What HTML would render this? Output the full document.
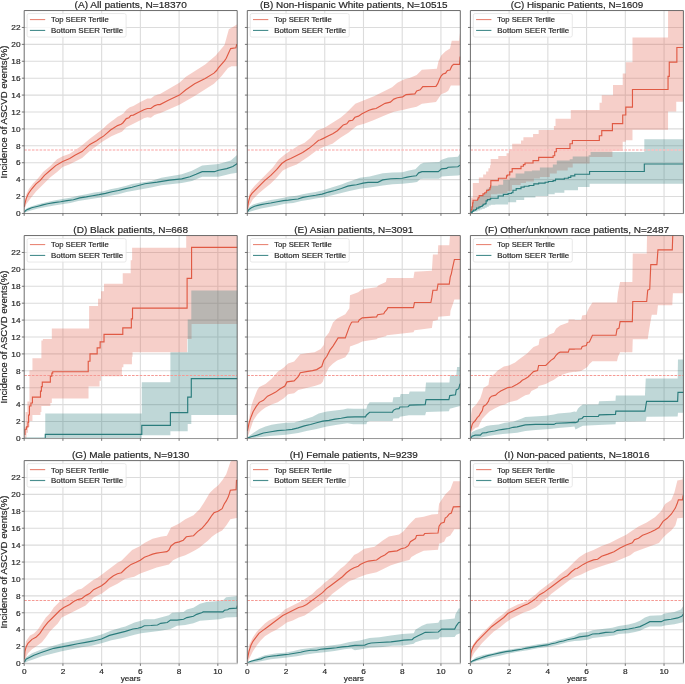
<!DOCTYPE html><html><head><meta charset="utf-8"><style>html,body{margin:0;padding:0;background:#fff;}svg{display:block;}</style></head><body>
<svg width="685" height="684" viewBox="0 0 685 684">
<rect width="685" height="684" fill="#fff"/>
<defs><clipPath id="c0"><rect x="24.2" y="10.55" width="213" height="202.9"/></clipPath><clipPath id="c1"><rect x="247.3" y="10.55" width="213" height="202.9"/></clipPath><clipPath id="c2"><rect x="470.4" y="10.55" width="213" height="202.9"/></clipPath><clipPath id="c3"><rect x="24.2" y="235.55" width="213" height="202.9"/></clipPath><clipPath id="c4"><rect x="247.3" y="235.55" width="213" height="202.9"/></clipPath><clipPath id="c5"><rect x="470.4" y="235.55" width="213" height="202.9"/></clipPath><clipPath id="c6"><rect x="24.2" y="460.6" width="213" height="202.9"/></clipPath><clipPath id="c7"><rect x="247.3" y="460.6" width="213" height="202.9"/></clipPath><clipPath id="c8"><rect x="470.4" y="460.6" width="213" height="202.9"/></clipPath></defs>
<g font-family='&quot;Liberation Sans&quot;, sans-serif' style="will-change:transform"><path d="M62.93 10.55 V213.45 M101.65 10.55 V213.45 M140.38 10.55 V213.45 M179.11 10.55 V213.45 M217.84 10.55 V213.45 M24.2 213.45 H237.2 M24.2 196.54 H237.2 M24.2 179.63 H237.2 M24.2 162.73 H237.2 M24.2 145.82 H237.2 M24.2 128.91 H237.2 M24.2 112 H237.2 M24.2 95.09 H237.2 M24.2 78.18 H237.2 M24.2 61.28 H237.2 M24.2 44.37 H237.2 M24.2 27.46 H237.2" stroke="#dcdcdc" stroke-width="1.1" fill="none"/><g clip-path="url(#c0)"><path d="M24.24 204.21 L24.8 201.4 L26.21 194.39 L29.02 188.77 L33.22 183.16 L37.44 178.95 L43.06 171.93 L50.07 166.32 L57.08 159.3 L62.69 156.21 L69.72 153.69 L78.15 148.07 L82.08 145.27 L89.84 138.66 L100.01 130.88 L103.51 128.25 L107.02 124.74 L110.52 122.1 L114.03 119.47 L117.55 116.84 L121.06 115.09 L123.69 113.34 L126.32 109.83 L129.83 107.19 L133.33 105.88 L136.84 104.12 L140.34 101.93 L143.87 100.17 L147.37 98.6 L150.88 98.42 L154.38 95.79 L157.89 94.47 L160 94.03 L179.4 82.81 L185.89 76.67 L205.19 64.39 L215.73 55.61 L224.5 45.09 L228.87 29.3 L233.27 26.66 L237.65 24.03 L237.65 66.14 L231.51 66.14 L228 67.89 L220.97 76.67 L213.96 83.69 L194.66 95.96 L179.4 104.74 L160 113.34 L157.89 113.78 L154.38 115.09 L150.88 117.72 L147.37 117.28 L143.87 118.15 L140.34 120.35 L136.84 122.1 L133.33 123.86 L129.83 125.61 L126.32 127.37 L121.93 131.76 L117.55 133.51 L111.39 136.14 L102.62 141.4 L89.84 150.88 L82.08 157.9 L78.15 160 L69.72 164.21 L62.69 167.02 L57.08 171.93 L50.07 177.55 L43.06 184.56 L36.03 191.58 L30.42 198.6 L26.21 204.21 L24.8 208.42 L24.24 209.82 Z" fill="#e15f4b" fill-opacity="0.3" stroke="none"/><path d="M24.41 210.7 L26.81 208.13 L31.64 206.2 L38.06 204.28 L46.08 202.19 L54.12 200.58 L62.15 198.98 L70.17 197.85 L78.21 195.76 L86.24 194.16 L94.26 192.55 L102.29 191.43 L110.33 189.35 L118.35 187.74 L126.38 185.65 L132 184.05 L151.09 180.88 L161.31 177.81 L181.74 174.33 L191.97 170.66 L202.19 165.55 L218.53 164.12 L230.81 160.43 L237.34 154.72 L237.34 172.7 L230.81 173.72 L218.53 176.78 L202.19 176.78 L191.97 180.88 L181.74 182.92 L161.31 185.37 L151.09 187.42 L132 190.95 L126.38 192.07 L118.35 194.16 L110.33 195.76 L102.29 197.37 L94.26 198.49 L86.24 199.78 L78.21 201.06 L70.17 202.99 L62.15 204.28 L54.12 205.4 L46.08 207.01 L38.06 208.61 L31.64 210.22 L26.81 211.83 L24.41 212.95 Z" fill="#2a7c7c" fill-opacity="0.3" stroke="none"/><path d="M24.2 150.04 H237.2" stroke="#fcc0c0" stroke-width="1.5" stroke-dasharray="2.6 1.25" fill="none"/><path d="M24.24 207.02 L24.8 204.21 L26.21 198.6 L28.32 193.68 L31.83 188.77 L36.03 183.86 L40.25 180.35 L44.45 175.44 L50.07 170.53 L55.69 165.62 L62.69 161.41 L69.72 158.6 L75.34 155.09 L82.08 151.58 L89.84 144.43 L96.62 140.7 L100.01 138.33 L103.51 136.14 L107.02 133.07 L110.52 130 L114.03 127.81 L117.55 125.61 L121.06 124.3 L122.8 122.98 L126.32 118.59 L128.94 117.72 L130.7 115.53 L133.33 115.09 L136.84 113.34 L140.34 111.58 L143.87 109.83 L147.37 108.51 L150.88 108.51 L154.38 105.88 L157.89 104.56 L160 104.56 L168.34 100.35 L179.4 95.09 L185.89 89.82 L194.66 83.69 L205.19 78.42 L213.96 73.16 L216.6 70.52 L218.36 67.89 L224.5 60.88 L226.24 58.25 L230.64 48.59 L235.9 47.72 L236.77 44.21" stroke="#e05a44" stroke-width="1.15" fill="none" stroke-linejoin="miter"/><path d="M24.41 211.83 L26.02 210.22 L28.42 209.1 L31.64 207.81 L34.85 207.01 L38.06 206.2 L42.87 204.92 L47.69 203.8 L54.12 202.67 L60.55 201.71 L66.95 200.58 L73.38 199.78 L79.81 197.85 L86.24 196.89 L92.65 195.76 L99.08 194.64 L105.51 193.35 L111.94 191.75 L118.35 190.46 L124.77 188.87 L132 187.26 L144.97 183.73 L157.23 182.1 L169.49 180.06 L181.74 178.83 L189.93 176.78 L196.05 174.33 L202.19 171.68 L214.45 171.68 L218.53 170.25 L226.72 168.61 L232.84 166.57 L237.34 163.5" stroke="#2a7c7c" stroke-width="1.15" fill="none" stroke-linejoin="miter"/></g><path d="M24.2 213.45 V10.55 H237.2 V213.45" fill="none" stroke="#5a5a5a" stroke-width="0.9"/><path d="M23.75 213.55 H237.65" fill="none" stroke="#7a7a7a" stroke-width="0.9"/><path d="M21.8 213.45 H24.2 M21.8 196.54 H24.2 M21.8 179.63 H24.2 M21.8 162.73 H24.2 M21.8 145.82 H24.2 M21.8 128.91 H24.2 M21.8 112 H24.2 M21.8 95.09 H24.2 M21.8 78.18 H24.2 M21.8 61.28 H24.2 M21.8 44.37 H24.2 M21.8 27.46 H24.2 M24.2 213.45 V215.85 M62.93 213.45 V215.85 M101.65 213.45 V215.85 M140.38 213.45 V215.85 M179.11 213.45 V215.85 M217.84 213.45 V215.85" stroke="#555" stroke-width="0.8" fill="none"/><text x="20.6" y="216.2" font-size="7.9" text-anchor="end" textLength="4.61" lengthAdjust="spacingAndGlyphs" fill="#262626" stroke="#262626" stroke-width="0.18">0</text><text x="20.6" y="199.29" font-size="7.9" text-anchor="end" textLength="4.61" lengthAdjust="spacingAndGlyphs" fill="#262626" stroke="#262626" stroke-width="0.18">2</text><text x="20.6" y="182.38" font-size="7.9" text-anchor="end" textLength="4.61" lengthAdjust="spacingAndGlyphs" fill="#262626" stroke="#262626" stroke-width="0.18">4</text><text x="20.6" y="165.48" font-size="7.9" text-anchor="end" textLength="4.61" lengthAdjust="spacingAndGlyphs" fill="#262626" stroke="#262626" stroke-width="0.18">6</text><text x="20.6" y="148.57" font-size="7.9" text-anchor="end" textLength="4.61" lengthAdjust="spacingAndGlyphs" fill="#262626" stroke="#262626" stroke-width="0.18">8</text><text x="20.6" y="131.66" font-size="7.9" text-anchor="end" textLength="9.23" lengthAdjust="spacingAndGlyphs" fill="#262626" stroke="#262626" stroke-width="0.18">10</text><text x="20.6" y="114.75" font-size="7.9" text-anchor="end" textLength="9.23" lengthAdjust="spacingAndGlyphs" fill="#262626" stroke="#262626" stroke-width="0.18">12</text><text x="20.6" y="97.84" font-size="7.9" text-anchor="end" textLength="9.23" lengthAdjust="spacingAndGlyphs" fill="#262626" stroke="#262626" stroke-width="0.18">14</text><text x="20.6" y="80.93" font-size="7.9" text-anchor="end" textLength="9.23" lengthAdjust="spacingAndGlyphs" fill="#262626" stroke="#262626" stroke-width="0.18">16</text><text x="20.6" y="64.03" font-size="7.9" text-anchor="end" textLength="9.23" lengthAdjust="spacingAndGlyphs" fill="#262626" stroke="#262626" stroke-width="0.18">18</text><text x="20.6" y="47.12" font-size="7.9" text-anchor="end" textLength="9.23" lengthAdjust="spacingAndGlyphs" fill="#262626" stroke="#262626" stroke-width="0.18">20</text><text x="20.6" y="30.21" font-size="7.9" text-anchor="end" textLength="9.23" lengthAdjust="spacingAndGlyphs" fill="#262626" stroke="#262626" stroke-width="0.18">22</text><text transform="translate(7.2 112) rotate(-90)" x="0" y="0" font-size="8.5" text-anchor="middle" textLength="133.05" lengthAdjust="spacingAndGlyphs" fill="#262626" stroke="#262626" stroke-width="0.18">Incidence of ASCVD events(%)</text><text x="130.7" y="7.95" font-size="9.2" text-anchor="middle" textLength="112.2" lengthAdjust="spacingAndGlyphs" fill="#262626" stroke="#262626" stroke-width="0.18">(A) All patients, N=18370</text><rect x="27.1" y="13.55" width="99" height="23.5" rx="1.8" fill="#fff" fill-opacity="0.8" stroke="#e2e2e2" stroke-width="0.8"/><path d="M29.9 19.55 H45.2" stroke="#e05a44" stroke-width="1.15" opacity="0.72"/><path d="M29.9 30.45 H45.2" stroke="#2a7c7c" stroke-width="1.15" opacity="0.85"/><text x="51.1" y="22.45" font-size="7.5" textLength="57.61" lengthAdjust="spacingAndGlyphs" fill="#262626" stroke="#262626" stroke-width="0.18">Top SEER Tertile</text><text x="51.1" y="32.75" font-size="7.5" textLength="71.97" lengthAdjust="spacingAndGlyphs" fill="#262626" stroke="#262626" stroke-width="0.18">Bottom SEER Tertile</text></g>
<g font-family='&quot;Liberation Sans&quot;, sans-serif' style="will-change:transform"><path d="M286.03 10.55 V213.45 M324.75 10.55 V213.45 M363.48 10.55 V213.45 M402.21 10.55 V213.45 M440.94 10.55 V213.45 M247.3 213.45 H460.3 M247.3 196.54 H460.3 M247.3 179.63 H460.3 M247.3 162.73 H460.3 M247.3 145.82 H460.3 M247.3 128.91 H460.3 M247.3 112 H460.3 M247.3 95.09 H460.3 M247.3 78.18 H460.3 M247.3 61.28 H460.3 M247.3 44.37 H460.3 M247.3 27.46 H460.3" stroke="#dcdcdc" stroke-width="1.1" fill="none"/><g clip-path="url(#c1)"><path d="M247.38 205.27 L248.98 195.32 L250.96 190.35 L254.95 185.38 L260.91 179.41 L266.88 173.45 L272.84 167.48 L278.8 159.53 L284.77 154.56 L290.73 150.58 L298.69 145.61 L304.66 142.63 L310.62 137.66 L316.58 130.7 L324.54 127.72 L332.48 122.75 L340.44 117.77 L346.4 112.8 L355.27 103.86 L364.04 100.35 L374.56 95.96 L385.09 90.7 L392.1 87.2 L397.37 82.81 L404.38 79.3 L409.64 78.07 L416.67 74.91 L421.92 69.65 L436.85 68.77 L438.59 60.88 L441.23 55.61 L445.62 51.23 L450 48.59 L451.76 40.7 L459.12 40.7 L460.18 31.05 L460.18 85.44 L450.87 85.44 L448.24 90.7 L445.62 92.45 L441.23 94.21 L437.72 99.47 L435.96 102.11 L421.92 103.86 L416.67 106.84 L409.64 108.25 L402.64 110 L393.86 111.75 L385.09 115.26 L372.82 120.53 L364.04 123.68 L357.01 125.79 L348.4 132.69 L340.44 137.66 L332.48 143.63 L324.54 146.61 L316.58 150.58 L308.62 156.55 L302.66 160.53 L296.7 164.5 L288.74 167.48 L282.77 170.47 L276.81 177.43 L270.85 183.4 L264.88 188.37 L258.92 193.34 L252.95 199.3 L248.98 206.26 L247.38 211.23 Z" fill="#e15f4b" fill-opacity="0.3" stroke="none"/><path d="M247.42 211.02 L249.02 207.01 L253.03 204.6 L257.85 202.99 L264.26 201.39 L270.69 200.1 L277.12 198.98 L283.55 197.85 L289.96 196.57 L296.39 195.76 L302.82 194.16 L309.22 193.03 L315.65 192.07 L322.08 190.46 L328.51 188.54 L334.92 186.62 L341.35 184.53 L347.78 182.12 L351.79 180.83 L359.8 177.74 L369.62 176.6 L382.71 173.33 L392.51 172.51 L402.33 172.19 L408.87 170.55 L415.4 169.24 L420.31 164.34 L423.57 162.7 L439.12 161.88 L441.56 159.76 L448.1 157.47 L457.92 156.65 L460.03 153.7 L460.03 174.97 L457.92 175.46 L448.1 176.11 L441.56 176.6 L439.12 178.72 L423.57 178.72 L420.31 179.05 L417.04 181.99 L412.12 182.65 L402.33 183.63 L392.51 184.28 L382.71 185.59 L369.62 187.55 L359.8 188.87 L351.79 190.46 L349.39 190.95 L341.35 193.03 L333.31 194.96 L325.3 196.89 L317.26 198.17 L309.22 199.78 L301.21 201.06 L293.17 202.99 L285.14 203.8 L277.12 205.4 L269.08 207.01 L261.07 208.61 L254.64 210.22 L249.82 211.83 L247.42 212.95 Z" fill="#2a7c7c" fill-opacity="0.3" stroke="none"/><path d="M247.3 150.04 H460.3" stroke="#fcc0c0" stroke-width="1.5" stroke-dasharray="2.6 1.25" fill="none"/><path d="M247.38 209.24 L248.58 201.28 L249.97 196.31 L251.97 193.34 L254.95 190.35 L258.92 186.37 L264.88 180.41 L270.85 175.44 L276.81 169.47 L281.79 163.51 L285.95 160.53 L290.73 158.54 L296.7 155.56 L302.66 152.57 L308.62 148.6 L313.6 144.62 L318.56 140.25 L319.87 140 L323.4 138.36 L328.07 136.03 L332.75 133.68 L337.42 130.76 L340.94 127.25 L343.27 124.91 L346.79 123.74 L349.11 120.82 L352.64 120.23 L354.96 117.31 L358.49 116.14 L361.99 113.8 L365.5 112.05 L369 110.29 L372.51 109.13 L376.03 108.53 L380 106.2 L385.09 103.33 L390.36 102.11 L393.86 99.12 L397.37 97.72 L402.64 96.84 L406.14 94.56 L414.91 93.86 L416.67 91.05 L420.18 89.82 L422.81 86.66 L435.96 86.32 L437.72 83.69 L439.46 79.3 L441.23 75.79 L442.99 74.03 L445.62 73.16 L447.37 70.52 L450 70 L451.76 66.14 L453.5 64.39 L459.64 64.39 L460.18 56.49" stroke="#e05a44" stroke-width="1.15" fill="none" stroke-linejoin="miter"/><path d="M247.42 211.83 L249.02 209.42 L251.42 207.81 L254.64 206.2 L257.85 205.4 L261.07 204.6 L265.87 203.8 L270.69 202.99 L277.12 201.71 L283.55 200.58 L288.35 200.1 L293.17 199.46 L297.99 198.98 L302.82 197.37 L309.22 196.25 L315.65 195.28 L322.08 194.16 L328.51 192.07 L334.92 190.46 L341.35 188.54 L347.78 186.13 L351.79 185.33 L356.55 184.77 L363.08 183.14 L367.99 182.32 L377.79 182.32 L382.71 179.87 L390.88 178.72 L402.33 178.23 L407.22 177.09 L412.12 176.27 L416.23 175.78 L418.67 172.84 L421.94 171.69 L438.28 171.69 L441.56 168.91 L446.47 168.42 L448.1 167.28 L457.92 166.79 L460.03 165.15" stroke="#2a7c7c" stroke-width="1.15" fill="none" stroke-linejoin="miter"/></g><path d="M247.3 213.45 V10.55 H460.3 V213.45" fill="none" stroke="#5a5a5a" stroke-width="0.9"/><path d="M246.85 213.55 H460.75" fill="none" stroke="#7a7a7a" stroke-width="0.9"/><path d="M244.9 213.45 H247.3 M244.9 196.54 H247.3 M244.9 179.63 H247.3 M244.9 162.73 H247.3 M244.9 145.82 H247.3 M244.9 128.91 H247.3 M244.9 112 H247.3 M244.9 95.09 H247.3 M244.9 78.18 H247.3 M244.9 61.28 H247.3 M244.9 44.37 H247.3 M244.9 27.46 H247.3 M247.3 213.45 V215.85 M286.03 213.45 V215.85 M324.75 213.45 V215.85 M363.48 213.45 V215.85 M402.21 213.45 V215.85 M440.94 213.45 V215.85" stroke="#555" stroke-width="0.8" fill="none"/><text x="353.8" y="7.95" font-size="9.2" text-anchor="middle" textLength="187.46" lengthAdjust="spacingAndGlyphs" fill="#262626" stroke="#262626" stroke-width="0.18">(B) Non-Hispanic White patients, N=10515</text><rect x="250.2" y="13.55" width="99" height="23.5" rx="1.8" fill="#fff" fill-opacity="0.8" stroke="#e2e2e2" stroke-width="0.8"/><path d="M253 19.55 H268.3" stroke="#e05a44" stroke-width="1.15" opacity="0.72"/><path d="M253 30.45 H268.3" stroke="#2a7c7c" stroke-width="1.15" opacity="0.85"/><text x="274.2" y="22.45" font-size="7.5" textLength="57.61" lengthAdjust="spacingAndGlyphs" fill="#262626" stroke="#262626" stroke-width="0.18">Top SEER Tertile</text><text x="274.2" y="32.75" font-size="7.5" textLength="71.97" lengthAdjust="spacingAndGlyphs" fill="#262626" stroke="#262626" stroke-width="0.18">Bottom SEER Tertile</text></g>
<g font-family='&quot;Liberation Sans&quot;, sans-serif' style="will-change:transform"><path d="M509.13 10.55 V213.45 M547.85 10.55 V213.45 M586.58 10.55 V213.45 M625.31 10.55 V213.45 M664.04 10.55 V213.45 M470.4 213.45 H683.4 M470.4 196.54 H683.4 M470.4 179.63 H683.4 M470.4 162.73 H683.4 M470.4 145.82 H683.4 M470.4 128.91 H683.4 M470.4 112 H683.4 M470.4 95.09 H683.4 M470.4 78.18 H683.4 M470.4 61.28 H683.4 M470.4 44.37 H683.4 M470.4 27.46 H683.4" stroke="#dcdcdc" stroke-width="1.1" fill="none"/><g clip-path="url(#c2)"><path d="M470.4 212.77 L470.88 212.77 L470.88 197.52 L472.82 197.52 L472.82 183.07 L478.86 183.07 L478.86 177.5 L483.14 177.5 L483.14 174.54 L486.1 174.54 L486.1 171.58 L488.41 171.58 L488.41 168.29 L490.05 168.29 L490.05 165.33 L490.71 165.33 L490.71 159.08 L498.28 159.08 L498.28 156.12 L506.53 156.12 L506.53 153.36 L508.95 153.36 L508.95 149.34 L512.17 149.34 L512.17 143.72 L521 143.72 L521 140.51 L523.4 140.51 L523.4 137.3 L533.04 137.3 L533.04 134.09 L538.66 134.09 L538.66 130.08 L553.92 130.08 L553.92 126.06 L555.52 126.06 L555.52 118.83 L570.78 118.83 L570.78 110 L599.54 110 L599.54 102.87 L601.76 102.87 L601.76 95.28 L613.01 95.28 L613.01 84.94 L622.73 84.94 L622.73 73.38 L625.79 73.38 L625.79 62.13 L632.47 62.13 L632.47 37.49 L668.04 37.49 L668.04 4.96 L693.08 4.96 L693.08 4.96 L693.08 101.66 L693.08 101.66 L676.25 101.66 L676.25 111.39 L668.04 111.39 L668.04 129.64 L632.47 129.64 L632.47 140.28 L625.79 140.28 L625.79 141.8 L622.73 141.8 L622.73 150.92 L612.41 150.92 L612.41 157.01 L589.6 157.01 L589.6 163.51 L572.7 163.51 L572.7 167.48 L567.72 167.48 L567.72 170.47 L556.78 170.47 L556.78 173.45 L549.83 173.45 L549.83 177.03 L539.88 177.03 L539.88 178.42 L533.91 178.42 L533.91 181.4 L525.97 181.4 L525.97 182.9 L520.71 182.9 L520.71 185.09 L511.93 185.09 L511.93 190.94 L507.54 190.94 L507.54 193.13 L503.16 193.13 L503.16 193.86 L497.32 193.86 L497.32 194.34 L491.04 194.34 L491.04 199.6 L488.74 199.6 L488.74 200.26 L486.76 200.26 L486.76 200.92 L486.1 200.92 L486.1 202.89 L484.79 202.89 L484.79 204.54 L482.81 204.54 L482.81 205.53 L480.84 205.53 L480.84 206.51 L478.86 206.51 L478.86 207.5 L476.89 207.5 L476.89 209.15 L474.91 209.15 L474.91 209.81 L472.96 209.81 L472.96 211.45 L471.64 211.45 L471.64 213.42 L470.65 213.42 Z" fill="#e15f4b" fill-opacity="0.3" stroke="none"/><path d="M470.65 212.11 L470.98 212.11 L470.98 206.84 L471.97 206.84 L471.97 202.89 L472.96 202.89 L472.96 201.58 L474.27 201.58 L474.27 200.59 L477.55 200.59 L477.55 199.27 L478.2 199.27 L478.2 197.96 L479.52 197.96 L479.52 195.98 L482.95 195.98 L482.95 194.34 L484.65 194.34 L484.65 193.02 L486.24 193.02 L486.24 192.04 L486.63 192.04 L486.63 188.75 L488.74 188.75 L488.74 187.44 L490.05 187.44 L490.05 186.45 L490.71 186.45 L490.71 185.79 L498.28 185.79 L498.28 184.8 L503.16 184.8 L503.16 179.97 L509.73 179.97 L509.73 177.78 L515.58 177.78 L515.58 173.39 L524.35 173.39 L524.35 171.2 L531.94 171.2 L531.94 170.47 L539.88 170.47 L539.88 167.48 L552.81 167.48 L552.81 164.5 L556.78 164.5 L556.78 160.53 L569.72 160.53 L569.72 159.13 L572.7 159.13 L572.7 156.55 L588.6 156.55 L588.6 155.16 L590.59 155.16 L590.59 151.98 L644.32 151.98 L644.32 139.37 L693.08 139.37 L693.08 139.37 L693.08 183.77 L693.08 183.77 L589.6 183.77 L589.6 187.08 L578 187.08 L578 190.29 L564.35 190.29 L564.35 192.7 L554.71 192.7 L554.71 194.31 L548.3 194.31 L548.3 195.92 L535.44 195.92 L535.44 197.52 L524.21 197.52 L524.21 199.92 L516.18 199.92 L516.18 202.33 L508.14 202.33 L508.14 204.54 L495.32 204.54 L495.32 204.87 L490.71 204.87 L490.71 205.53 L488.74 205.53 L488.74 206.84 L486.76 206.84 L486.76 207.83 L484.79 207.83 L484.79 208.82 L482.15 208.82 L482.15 209.48 L480.18 209.48 L480.18 210.46 L477.55 210.46 L477.55 211.45 L474.91 211.45 L474.91 212.11 L472.96 212.11 L472.96 212.77 L471.64 212.77 L471.64 213.42 L470.65 213.42 Z" fill="#2a7c7c" fill-opacity="0.3" stroke="none"/><path d="M470.4 150.04 H683.4" stroke="#fcc0c0" stroke-width="1.5" stroke-dasharray="2.6 1.25" fill="none"/><path d="M470.65 212.11 H471.1 V209.48 H471.97 V206.84 H472.63 V202.89 H473.07 V200.26 H477.55 V198.95 H478.2 V197.63 H479.19 V195.65 H482.95 V193.82 H484.65 V192.7 H486.24 V191.71 H486.63 V190.4 H488.6 V189.74 H489.92 V187.77 H490.58 V185.79 H490.85 V180.66 H498.4 V178.22 H506.53 V175.84 H507.35 V175.03 H509.75 V171.82 H512.17 V168.61 H521 V166.21 H523.4 V164.6 H525.01 V163 H533.04 V160.59 H538.66 V157.37 H553.1 V155.77 H554.71 V151.75 H556.32 V148.54 H569.97 V143.72 H572.39 V140.51 H599.32 V135.72 H601.76 V130.55 H612.41 V123.56 H622.73 V115.04 H625.79 V107.13 H632.47 V89.5 H668.04 V76.42 H669.26 V62.13 H676.87 V47.53 H693.08 V47.53" stroke="#e05a44" stroke-width="1.15" fill="none" stroke-linejoin="miter"/><path d="M470.65 213.09 H471.64 V212.11 H472.3 V211.12 H473.61 V210.13 H475.57 V209.48 H476.56 V208.16 H478.86 V207.17 H480.18 V206.51 H482.15 V205.53 H483.14 V204.21 H485.12 V203.55 H486.1 V200.92 H487.42 V199.6 H490.05 V198.95 H490.71 V198.29 H498.15 V195.98 H503.34 V194.31 H508.14 V193.51 H511.35 V192.7 H512.96 V190.29 H516.18 V188.69 H521 V187.08 H524.21 V186.28 H529.01 V185.48 H533.84 V183.87 H538.66 V183.07 H545.09 V182.26 H548.3 V181.46 H553.1 V180.66 H555.52 V179.05 H564.35 V178.25 H568.36 V177.44 H570.78 V175.84 H574.79 V174.23 H589.58 V171.46 H644.32 V164 H693.08 V164" stroke="#2a7c7c" stroke-width="1.15" fill="none" stroke-linejoin="miter"/></g><path d="M470.4 213.45 V10.55 H683.4 V213.45" fill="none" stroke="#5a5a5a" stroke-width="0.9"/><path d="M469.95 213.55 H683.85" fill="none" stroke="#7a7a7a" stroke-width="0.9"/><path d="M468 213.45 H470.4 M468 196.54 H470.4 M468 179.63 H470.4 M468 162.73 H470.4 M468 145.82 H470.4 M468 128.91 H470.4 M468 112 H470.4 M468 95.09 H470.4 M468 78.18 H470.4 M468 61.28 H470.4 M468 44.37 H470.4 M468 27.46 H470.4 M470.4 213.45 V215.85 M509.13 213.45 V215.85 M547.85 213.45 V215.85 M586.58 213.45 V215.85 M625.31 213.45 V215.85 M664.04 213.45 V215.85" stroke="#555" stroke-width="0.8" fill="none"/><text x="576.9" y="7.95" font-size="9.2" text-anchor="middle" textLength="132.51" lengthAdjust="spacingAndGlyphs" fill="#262626" stroke="#262626" stroke-width="0.18">(C) Hispanic Patients, N=1609</text><rect x="473.3" y="13.55" width="99" height="23.5" rx="1.8" fill="#fff" fill-opacity="0.8" stroke="#e2e2e2" stroke-width="0.8"/><path d="M476.1 19.55 H491.4" stroke="#e05a44" stroke-width="1.15" opacity="0.72"/><path d="M476.1 30.45 H491.4" stroke="#2a7c7c" stroke-width="1.15" opacity="0.85"/><text x="497.3" y="22.45" font-size="7.5" textLength="57.61" lengthAdjust="spacingAndGlyphs" fill="#262626" stroke="#262626" stroke-width="0.18">Top SEER Tertile</text><text x="497.3" y="32.75" font-size="7.5" textLength="71.97" lengthAdjust="spacingAndGlyphs" fill="#262626" stroke="#262626" stroke-width="0.18">Bottom SEER Tertile</text></g>
<g font-family='&quot;Liberation Sans&quot;, sans-serif' style="will-change:transform"><path d="M62.93 235.55 V438.45 M101.65 235.55 V438.45 M140.38 235.55 V438.45 M179.11 235.55 V438.45 M217.84 235.55 V438.45 M24.2 438.45 H237.2 M24.2 421.54 H237.2 M24.2 404.63 H237.2 M24.2 387.73 H237.2 M24.2 370.82 H237.2 M24.2 353.91 H237.2 M24.2 337 H237.2 M24.2 320.09 H237.2 M24.2 303.18 H237.2 M24.2 286.28 H237.2 M24.2 269.37 H237.2 M24.2 252.46 H237.2" stroke="#dcdcdc" stroke-width="1.1" fill="none"/><g clip-path="url(#c3)"><path d="M24.39 426.88 L25.57 426.88 L25.57 411.96 L27.38 411.96 L27.38 401.52 L29.45 401.52 L29.45 370.21 L32.43 370.21 L32.43 358.28 L41.39 358.28 L41.39 340.39 L42.89 340.39 L42.89 338.89 L51.83 338.89 L51.83 328.45 L89.11 328.45 L89.11 306.09 L98.05 306.09 L98.05 298.63 L101.03 298.63 L101.03 291.18 L104.02 291.18 L104.02 283.72 L122.74 283.72 L122.74 273.24 L130.7 273.24 L130.7 260.33 L132.11 260.33 L132.11 247.7 L186.22 247.7 L186.22 227.05 L246.88 227.05 L246.88 227.05 L246.88 323.98 L246.88 323.98 L191.58 323.98 L191.58 338.89 L187.11 338.89 L187.11 352.32 L132.52 352.32 L132.52 356.79 L131.94 356.79 L131.94 364.25 L123.4 364.25 L123.4 367.23 L121.91 367.23 L121.91 376.18 L101.03 376.18 L101.03 380.65 L99.54 380.65 L99.54 386.62 L88.51 386.62 L88.51 398.55 L51.83 398.55 L51.83 403.02 L50.34 403.02 L50.34 406 L41.39 406 L41.39 411.96 L40.48 411.96 L40.48 414.95 L32.43 414.95 L32.43 420.92 L29.45 420.92 L29.45 426.88 L27.96 426.88 L27.96 432.84 L26.47 432.84 L26.47 438.21 L24.39 438.21 Z" fill="#e15f4b" fill-opacity="0.3" stroke="none"/><path d="M24.39 438.21 L45.27 438.21 L45.27 413.46 L141.78 413.46 L141.78 382.14 L170.4 382.14 L170.4 352.32 L187.71 352.32 L187.71 319.51 L191.29 319.51 L191.29 290.58 L246.88 290.58 L246.88 290.58 L246.88 414.95 L246.88 414.95 L191.29 414.95 L191.29 423.89 L187.71 423.89 L187.71 431.35 L170.4 431.35 L170.4 435.23 L141.78 435.23 L141.78 438.21 L24.39 438.21 Z" fill="#2a7c7c" fill-opacity="0.3" stroke="none"/><path d="M24.2 375.5 H237.2" stroke="#f59a94" stroke-width="1.0" stroke-dasharray="2.6 1.25" fill="none"/><path d="M24.39 434.33 H24.97 V429.26 H26.47 V426.88 H27.96 V422.4 H28.56 V414.95 H29.45 V406 H30.94 V403.02 H32.43 V397.05 H40.48 V391.09 H41.39 V386.62 H42.29 V382.14 H50.34 V376.18 H51.83 V373.19 H52.72 V371.7 H88.22 V361.26 H90 V353.81 H97.16 V347.84 H100.14 V341.88 H104.02 V334.42 H122.8 V327.86 H131.34 V318.91 H132.52 V308.17 H187.11 V278.35 H191.58 V247.34 H246.88 V247.34" stroke="#e05a44" stroke-width="1.15" fill="none" stroke-linejoin="miter"/><path d="M24.39 438.21 H45.27 V434.33 H141.78 V425.39 H170.4 V412.56 H187.71 V397.05 H191.29 V378.56 H246.88 V378.56" stroke="#2a7c7c" stroke-width="1.15" fill="none" stroke-linejoin="miter"/></g><path d="M24.2 438.45 V235.55 H237.2 V438.45" fill="none" stroke="#5a5a5a" stroke-width="0.9"/><path d="M23.75 438.55 H237.65" fill="none" stroke="#969696" stroke-width="1.0"/><path d="M21.8 438.45 H24.2 M21.8 421.54 H24.2 M21.8 404.63 H24.2 M21.8 387.73 H24.2 M21.8 370.82 H24.2 M21.8 353.91 H24.2 M21.8 337 H24.2 M21.8 320.09 H24.2 M21.8 303.18 H24.2 M21.8 286.28 H24.2 M21.8 269.37 H24.2 M21.8 252.46 H24.2 M24.2 438.45 V440.85 M62.93 438.45 V440.85 M101.65 438.45 V440.85 M140.38 438.45 V440.85 M179.11 438.45 V440.85 M217.84 438.45 V440.85" stroke="#555" stroke-width="0.8" fill="none"/><text x="20.6" y="441.2" font-size="7.9" text-anchor="end" textLength="4.61" lengthAdjust="spacingAndGlyphs" fill="#262626" stroke="#262626" stroke-width="0.18">0</text><text x="20.6" y="424.29" font-size="7.9" text-anchor="end" textLength="4.61" lengthAdjust="spacingAndGlyphs" fill="#262626" stroke="#262626" stroke-width="0.18">2</text><text x="20.6" y="407.38" font-size="7.9" text-anchor="end" textLength="4.61" lengthAdjust="spacingAndGlyphs" fill="#262626" stroke="#262626" stroke-width="0.18">4</text><text x="20.6" y="390.48" font-size="7.9" text-anchor="end" textLength="4.61" lengthAdjust="spacingAndGlyphs" fill="#262626" stroke="#262626" stroke-width="0.18">6</text><text x="20.6" y="373.57" font-size="7.9" text-anchor="end" textLength="4.61" lengthAdjust="spacingAndGlyphs" fill="#262626" stroke="#262626" stroke-width="0.18">8</text><text x="20.6" y="356.66" font-size="7.9" text-anchor="end" textLength="9.23" lengthAdjust="spacingAndGlyphs" fill="#262626" stroke="#262626" stroke-width="0.18">10</text><text x="20.6" y="339.75" font-size="7.9" text-anchor="end" textLength="9.23" lengthAdjust="spacingAndGlyphs" fill="#262626" stroke="#262626" stroke-width="0.18">12</text><text x="20.6" y="322.84" font-size="7.9" text-anchor="end" textLength="9.23" lengthAdjust="spacingAndGlyphs" fill="#262626" stroke="#262626" stroke-width="0.18">14</text><text x="20.6" y="305.93" font-size="7.9" text-anchor="end" textLength="9.23" lengthAdjust="spacingAndGlyphs" fill="#262626" stroke="#262626" stroke-width="0.18">16</text><text x="20.6" y="289.03" font-size="7.9" text-anchor="end" textLength="9.23" lengthAdjust="spacingAndGlyphs" fill="#262626" stroke="#262626" stroke-width="0.18">18</text><text x="20.6" y="272.12" font-size="7.9" text-anchor="end" textLength="9.23" lengthAdjust="spacingAndGlyphs" fill="#262626" stroke="#262626" stroke-width="0.18">20</text><text x="20.6" y="255.21" font-size="7.9" text-anchor="end" textLength="9.23" lengthAdjust="spacingAndGlyphs" fill="#262626" stroke="#262626" stroke-width="0.18">22</text><text transform="translate(7.2 337) rotate(-90)" x="0" y="0" font-size="8.5" text-anchor="middle" textLength="133.05" lengthAdjust="spacingAndGlyphs" fill="#262626" stroke="#262626" stroke-width="0.18">Incidence of ASCVD events(%)</text><text x="130.7" y="232.95" font-size="9.2" text-anchor="middle" textLength="114.64" lengthAdjust="spacingAndGlyphs" fill="#262626" stroke="#262626" stroke-width="0.18">(D) Black patients, N=668</text><rect x="27.1" y="238.55" width="99" height="23.5" rx="1.8" fill="#fff" fill-opacity="0.8" stroke="#e2e2e2" stroke-width="0.8"/><path d="M29.9 244.55 H45.2" stroke="#e05a44" stroke-width="1.15" opacity="0.72"/><path d="M29.9 255.45 H45.2" stroke="#2a7c7c" stroke-width="1.15" opacity="0.85"/><text x="51.1" y="247.45" font-size="7.5" textLength="57.61" lengthAdjust="spacingAndGlyphs" fill="#262626" stroke="#262626" stroke-width="0.18">Top SEER Tertile</text><text x="51.1" y="257.75" font-size="7.5" textLength="71.97" lengthAdjust="spacingAndGlyphs" fill="#262626" stroke="#262626" stroke-width="0.18">Bottom SEER Tertile</text></g>
<g font-family='&quot;Liberation Sans&quot;, sans-serif' style="will-change:transform"><path d="M286.03 235.55 V438.45 M324.75 235.55 V438.45 M363.48 235.55 V438.45 M402.21 235.55 V438.45 M440.94 235.55 V438.45 M247.3 438.45 H460.3 M247.3 421.54 H460.3 M247.3 404.63 H460.3 M247.3 387.73 H460.3 M247.3 370.82 H460.3 M247.3 353.91 H460.3 M247.3 337 H460.3 M247.3 320.09 H460.3 M247.3 303.18 H460.3 M247.3 286.28 H460.3 M247.3 269.37 H460.3 M247.3 252.46 H460.3" stroke="#dcdcdc" stroke-width="1.1" fill="none"/><g clip-path="url(#c4)"><path d="M247.45 426.9 L249.1 418.71 L251.13 406.43 L253.19 400.3 L257.27 390.06 L259.32 386.99 L265.46 383.92 L271.6 378.8 L277.74 371.64 L283.9 367.54 L287.98 363.45 L294.12 361.41 L300.26 354.24 L306.4 353.22 L314.59 352.19 L320.73 349.12 L323.81 345.03 L324.83 337.86 L328.92 332.75 L333 322.52 L337.11 318.42 L345.3 314.33 L349.39 308.19 L350 295.35 L358.2 292.29 L362.28 289.22 L376.61 287.17 L378.66 285.13 L385.83 282.06 L386.83 277.96 L413.46 277.96 L414.47 271.82 L431.87 270.8 L432.9 254.42 L437.8 254.42 L438.23 245.21 L449.26 245.21 L450.29 231.91 L461.97 231.91 L461.97 299.45 L454.39 299.45 L452.34 305.59 L450.5 310.71 L450.1 315.82 L438.23 316.85 L437.8 319.91 L432.9 320.95 L431.87 328.11 L414.47 330.15 L413.46 332.2 L386.83 335.27 L385.83 336.29 L377.64 338.34 L376.61 339.36 L362.28 341.41 L358.2 343.46 L350 346.53 L349.39 351.17 L345.3 357.31 L337.11 360.38 L333 363.45 L328.92 367.54 L324.83 375.73 L322.78 381.87 L320.73 383.92 L314.59 385.97 L306.4 388.01 L298.21 390.06 L294.12 393.13 L287.98 394.15 L283.9 398.24 L277.74 402.34 L271.6 404.39 L265.46 407.46 L261.38 410.53 L257.27 414.62 L253.19 420.76 L251.13 426.9 L249.1 433.04 L247.45 437.13 Z" fill="#e15f4b" fill-opacity="0.3" stroke="none"/><path d="M247.45 437.13 L253.19 433.04 L259.32 428.95 L265.46 426.49 L271.6 424.86 L277.74 423.83 L285.93 422.81 L294.12 422.4 L300.26 420.76 L306.4 418.71 L312.54 416.66 L318.69 413.59 L326.87 411.55 L335.06 410.53 L343.25 409.5 L347.33 408.48 L353.28 408.67 L366.35 408.67 L367.16 405.4 L369.62 402.13 L392.51 402.13 L393.32 397.23 L399.87 396.9 L400.68 393.96 L408.87 393.96 L409.68 391.5 L425.21 391.5 L426.03 382.51 L449.42 382.51 L450.06 375.15 L456.27 375.15 L457.09 366.98 L459.54 366.98 L459.87 357.98 L462.82 356.35 L462.82 405.4 L456.27 407.03 L449.75 408.67 L448.91 411.13 L426.03 411.94 L425.21 415.21 L408.87 415.21 L399.87 416.85 L399.05 418.15 L393.32 418.48 L392.51 420.93 L369.62 420.93 L367.16 421.75 L366.35 424.2 L353.28 424.2 L347.33 423.22 L337.11 424.86 L326.87 426.49 L316.64 428.95 L306.4 430.99 L298.21 433.04 L285.93 434.68 L269.57 436.11 L257.27 437.55 L247.45 438.77 Z" fill="#2a7c7c" fill-opacity="0.3" stroke="none"/><path d="M247.3 375.5 H460.3" stroke="#f59a94" stroke-width="1.0" stroke-dasharray="2.6 1.25" fill="none"/><path d="M247.45 430.99 L249.1 422.81 L251.13 416.66 L253.19 411.55 L256.27 406.43 L259.32 402.34 L263.43 400.3 L267.52 396.2 L271.6 394.15 L275.71 392.1 L279.79 389.04 L284.9 385.97 L286.96 381.87 L294.12 380.85 L298.21 376.75 L300.26 372.66 L306.4 371.64 L312.54 370.61 L316.64 369.59 L321.75 366.52 L323.81 360.38 L326.87 356.28 L329.94 350.15 L333 346.05 L338.13 337.86 L345.3 337.86 L349.39 326.61 L351.44 322.52 L352.04 321.97 L358.2 321.97 L359.2 319.91 L362.28 317.87 L376.61 316.85 L377.64 314.8 L383.77 313.78 L384.8 311.73 L386.83 309.68 L387.86 307.64 L413.46 307.64 L414.47 302.52 L430.85 302.52 L431.87 297.4 L432.9 290.24 L436.99 290.24 L438.01 284.1 L449.26 284.1 L450.29 276.93 L451.32 273.86 L452.34 268.75 L454.39 259.53 L461.97 259.53" stroke="#e05a44" stroke-width="1.15" fill="none" stroke-linejoin="miter"/><path d="M247.45 438.15 L251.13 436.73 L257.27 435.09 L263.43 433.04 L269.57 432.02 L277.74 430.59 L285.93 429.97 L292.07 429.35 L298.21 427.92 L304.36 425.88 L310.5 424.44 L316.64 422.81 L322.78 421.17 L328.92 420.35 L335.06 419.12 L341.19 418.3 L347.33 417.08 L354.9 416.85 L365.53 416.85 L366.35 415.21 L369.62 412.27 L392.51 412.27 L393.32 410.31 L395.78 409 L399.05 408.67 L399.87 407.03 L408.04 406.71 L409.68 405.07 L425.21 404.58 L426.03 399.68 L448.91 399.68 L449.75 395.59 L455.46 394.78 L456.27 389.87 L458.73 388.72 L459.87 384.15 L462.82 383.33" stroke="#2a7c7c" stroke-width="1.15" fill="none" stroke-linejoin="miter"/></g><path d="M247.3 438.45 V235.55 H460.3 V438.45" fill="none" stroke="#5a5a5a" stroke-width="0.9"/><path d="M246.85 438.55 H460.75" fill="none" stroke="#969696" stroke-width="1.0"/><path d="M244.9 438.45 H247.3 M244.9 421.54 H247.3 M244.9 404.63 H247.3 M244.9 387.73 H247.3 M244.9 370.82 H247.3 M244.9 353.91 H247.3 M244.9 337 H247.3 M244.9 320.09 H247.3 M244.9 303.18 H247.3 M244.9 286.28 H247.3 M244.9 269.37 H247.3 M244.9 252.46 H247.3 M247.3 438.45 V440.85 M286.03 438.45 V440.85 M324.75 438.45 V440.85 M363.48 438.45 V440.85 M402.21 438.45 V440.85 M440.94 438.45 V440.85" stroke="#555" stroke-width="0.8" fill="none"/><text x="353.8" y="232.95" font-size="9.2" text-anchor="middle" textLength="119.21" lengthAdjust="spacingAndGlyphs" fill="#262626" stroke="#262626" stroke-width="0.18">(E) Asian patients, N=3091</text><rect x="250.2" y="238.55" width="99" height="23.5" rx="1.8" fill="#fff" fill-opacity="0.8" stroke="#e2e2e2" stroke-width="0.8"/><path d="M253 244.55 H268.3" stroke="#e05a44" stroke-width="1.15" opacity="0.72"/><path d="M253 255.45 H268.3" stroke="#2a7c7c" stroke-width="1.15" opacity="0.85"/><text x="274.2" y="247.45" font-size="7.5" textLength="57.61" lengthAdjust="spacingAndGlyphs" fill="#262626" stroke="#262626" stroke-width="0.18">Top SEER Tertile</text><text x="274.2" y="257.75" font-size="7.5" textLength="71.97" lengthAdjust="spacingAndGlyphs" fill="#262626" stroke="#262626" stroke-width="0.18">Bottom SEER Tertile</text></g>
<g font-family='&quot;Liberation Sans&quot;, sans-serif' style="will-change:transform"><path d="M509.13 235.55 V438.45 M547.85 235.55 V438.45 M586.58 235.55 V438.45 M625.31 235.55 V438.45 M664.04 235.55 V438.45 M470.4 438.45 H683.4 M470.4 421.54 H683.4 M470.4 404.63 H683.4 M470.4 387.73 H683.4 M470.4 370.82 H683.4 M470.4 353.91 H683.4 M470.4 337 H683.4 M470.4 320.09 H683.4 M470.4 303.18 H683.4 M470.4 286.28 H683.4 M470.4 269.37 H683.4 M470.4 252.46 H683.4" stroke="#dcdcdc" stroke-width="1.1" fill="none"/><g clip-path="url(#c5)"><path d="M470.46 430.99 L471.08 414.62 L472.08 408.48 L476.19 404.39 L480.28 398.24 L482.33 392.1 L483.35 388.01 L488.47 384.94 L489.49 377.77 L494.6 373.68 L497.68 370.61 L503.82 366.52 L508.93 365.5 L515.07 362.43 L519.18 359.35 L523.26 356.28 L527.35 353.22 L531.45 349.12 L533.51 347.08 L538.62 345.03 L539.64 338.89 L546.81 336.84 L548.84 334.79 L553.97 332.75 L556.01 328.66 L560.11 325.59 L568.28 322.52 L568.71 319.44 L574.44 319.44 L575.04 319.91 L581.18 319.91 L582.21 315.42 L586.31 314.8 L587.34 311.32 L589.37 307.22 L592.45 302.52 L617 302.52 L618.03 292.29 L620.08 282.06 L632.36 282.06 L632.76 253.4 L646.69 253.4 L647.09 231.91 L684.97 231.91 L684.97 293.31 L672.89 293.31 L672.27 305.18 L657.94 305.18 L656.91 314.8 L651.8 314.8 L650.77 319.91 L648.74 332.2 L647.71 339.36 L632.76 339.36 L632.36 352.26 L620.08 352.26 L618.03 356.76 L617 361.26 L592.45 361.26 L589.37 363.93 L587.34 367 L581.18 371.09 L575.04 372.11 L574.44 371.64 L568.28 372.66 L562.14 374.71 L558.06 376.75 L553.97 379.82 L549.87 381.87 L545.78 383.92 L538.62 385.97 L537.59 388.01 L531.45 391.08 L529.4 394.15 L525.32 395.17 L520.18 398.24 L517.12 400.3 L508.93 402.34 L504.85 404.39 L500.74 405.41 L494.6 408.48 L489.49 411.55 L486.41 414.62 L482.33 418.71 L480.28 422.81 L478.24 426.9 L475.16 427.92 L472.08 430.99 L470.46 435.09 Z" fill="#e15f4b" fill-opacity="0.3" stroke="none"/><path d="M470.46 435.09 L472.08 432.02 L476.19 429.97 L482.33 427.92 L486.41 425.88 L490.52 425.26 L498.71 424.44 L504.85 422.81 L513.04 421.79 L521.21 418.71 L525.32 417.08 L537.59 416.26 L545.78 415.64 L553.97 414.62 L558.06 413.59 L564.2 412.99 L570.34 412.57 L574.44 411.55 L576.26 411.94 L577.91 408.67 L579.53 407.03 L582.81 404.58 L598.34 404.58 L599.17 401.31 L615.51 400.82 L615.84 395.59 L644.94 395.59 L645.76 378.43 L677.65 378.43 L677.98 359.62 L685.82 359.62 L685.82 412.76 L677.98 412.76 L677.65 416.52 L646.57 416.85 L645.76 421.26 L615.84 421.75 L615.51 424.2 L598.34 425.02 L582.81 425.84 L577.91 428.29 L575.45 429.6 L574.44 426.49 L570.34 426.9 L558.06 427.92 L549.87 428.95 L535.54 429.97 L525.32 430.99 L517.12 432.63 L508.93 433.45 L502.8 434.06 L494.6 435.09 L488.47 436.11 L482.33 437.13 L476.19 438.15 L470.46 439.19 Z" fill="#2a7c7c" fill-opacity="0.3" stroke="none"/><path d="M470.4 375.5 H683.4" stroke="#f59a94" stroke-width="1.0" stroke-dasharray="2.6 1.25" fill="none"/><path d="M470.46 430.99 L472.08 424.86 L473.11 422.81 L475.16 420.76 L477.22 417.69 L479.25 415.64 L480.28 413.59 L482.33 410.53 L483.35 406.43 L486.41 404.39 L488.47 401.32 L489.49 398.24 L491.55 396.2 L495.63 395.17 L497.68 393.13 L500.74 391.08 L504.85 389.04 L507.91 387.6 L512.01 386.99 L517.12 384.33 L520.18 382.28 L522.24 380.23 L525.32 378.8 L528.37 376.75 L531.45 373.68 L533.51 371.64 L537.59 370.61 L538.62 365.5 L545.78 365.5 L548.84 362.43 L550.89 360.38 L553.97 358.33 L556.01 355.26 L558.06 353.22 L560.11 352.19 L568.28 352.19 L569.31 349.12 L574.44 349.12 L575.04 348.98 L581.18 348.98 L582.21 346.53 L586.31 345.5 L587.34 342.44 L589.37 342.02 L592.45 335.27 L615.98 335.27 L617 329.13 L619.05 328.11 L620.08 321.55 L632.36 321.55 L632.76 301.5 L646.69 301.5 L647.71 290.24 L649.75 289.22 L650.77 264.66 L656.91 264.66 L657.94 249.92 L672.27 249.92 L672.89 231.91 L684.97 231.91" stroke="#e05a44" stroke-width="1.15" fill="none" stroke-linejoin="miter"/><path d="M470.46 438.77 L472.08 436.11 L475.16 435.09 L480.28 435.09 L482.33 433.04 L486.41 432.63 L488.47 432.02 L494.6 430.99 L498.71 429.97 L502.8 429.35 L508.93 428.54 L513.04 427.31 L517.12 426.9 L521.21 425.88 L525.32 424.86 L535.54 424.44 L553.97 424.44 L556.01 423.22 L566.25 422.81 L574.44 422.4 L575.45 422.57 L577.91 421.75 L578.72 419.3 L581.99 418.48 L583.62 416.52 L598.34 416.52 L599.17 414.89 L615.51 414.4 L615.84 411.13 L644.94 411.13 L645.76 406.22 L646.57 401.31 L677.65 401.31 L677.98 392.32 L685.82 392.32" stroke="#2a7c7c" stroke-width="1.15" fill="none" stroke-linejoin="miter"/></g><path d="M470.4 438.45 V235.55 H683.4 V438.45" fill="none" stroke="#5a5a5a" stroke-width="0.9"/><path d="M469.95 438.55 H683.85" fill="none" stroke="#969696" stroke-width="1.0"/><path d="M468 438.45 H470.4 M468 421.54 H470.4 M468 404.63 H470.4 M468 387.73 H470.4 M468 370.82 H470.4 M468 353.91 H470.4 M468 337 H470.4 M468 320.09 H470.4 M468 303.18 H470.4 M468 286.28 H470.4 M468 269.37 H470.4 M468 252.46 H470.4 M470.4 438.45 V440.85 M509.13 438.45 V440.85 M547.85 438.45 V440.85 M586.58 438.45 V440.85 M625.31 438.45 V440.85 M664.04 438.45 V440.85" stroke="#555" stroke-width="0.8" fill="none"/><text x="576.9" y="232.95" font-size="9.2" text-anchor="middle" textLength="184.32" lengthAdjust="spacingAndGlyphs" fill="#262626" stroke="#262626" stroke-width="0.18">(F) Other/unknown race patients, N=2487</text><rect x="473.3" y="238.55" width="99" height="23.5" rx="1.8" fill="#fff" fill-opacity="0.8" stroke="#e2e2e2" stroke-width="0.8"/><path d="M476.1 244.55 H491.4" stroke="#e05a44" stroke-width="1.15" opacity="0.72"/><path d="M476.1 255.45 H491.4" stroke="#2a7c7c" stroke-width="1.15" opacity="0.85"/><text x="497.3" y="247.45" font-size="7.5" textLength="57.61" lengthAdjust="spacingAndGlyphs" fill="#262626" stroke="#262626" stroke-width="0.18">Top SEER Tertile</text><text x="497.3" y="257.75" font-size="7.5" textLength="71.97" lengthAdjust="spacingAndGlyphs" fill="#262626" stroke="#262626" stroke-width="0.18">Bottom SEER Tertile</text></g>
<g font-family='&quot;Liberation Sans&quot;, sans-serif' style="will-change:transform"><path d="M62.93 460.6 V663.5 M101.65 460.6 V663.5 M140.38 460.6 V663.5 M179.11 460.6 V663.5 M217.84 460.6 V663.5 M24.2 663.5 H237.2 M24.2 646.59 H237.2 M24.2 629.68 H237.2 M24.2 612.77 H237.2 M24.2 595.87 H237.2 M24.2 578.96 H237.2 M24.2 562.05 H237.2 M24.2 545.14 H237.2 M24.2 528.23 H237.2 M24.2 511.32 H237.2 M24.2 494.42 H237.2 M24.2 477.51 H237.2" stroke="#dcdcdc" stroke-width="1.1" fill="none"/><g clip-path="url(#c6)"><path d="M24.39 653.28 L25.98 641.34 L29.95 635.38 L33.92 633.39 L37.91 629.41 L41.88 623.45 L45.87 617.48 L49.84 613.51 L53.81 607.54 L57.8 603.57 L61.77 599.59 L65.73 597.6 L71.7 593.63 L77.66 589.65 L81.65 588.66 L85.62 585.67 L89.61 582.69 L93.58 579.71 L97.55 577.72 L101.54 574.74 L105.51 571.76 L109.48 568.77 L113.47 565.79 L117.44 562.81 L121.42 560.82 L125.39 556.84 L132.09 550.06 L136.18 548.01 L140.28 545.96 L144.37 542.89 L152.56 538.8 L160.75 536.76 L166.89 535.73 L168.94 531.64 L170.98 527.54 L175.08 525.49 L179.17 523.45 L185.31 519.36 L189.41 517.31 L193.5 515.26 L199.63 509.13 L203.74 502.98 L209.88 492.75 L213.96 488.65 L218.05 485.58 L222.15 480.47 L226.24 474.33 L230.35 462.05 L236.48 455.91 L240.57 455.91 L240.57 517.31 L230.35 519.36 L226.24 525.49 L222.15 530.62 L216.02 533.69 L211.91 536.76 L207.83 540.85 L203.74 543.92 L199.63 547.6 L195.55 550.06 L189.41 553.13 L185.31 555.18 L179.17 557.22 L173.03 560.29 L168.94 564.38 L164.84 565.41 L156.65 567.45 L148.48 570.53 L140.28 573.6 L134.15 576.67 L125.39 578.71 L117.44 583.68 L109.48 587.66 L101.54 593.63 L97.55 595.61 L93.58 597.6 L89.61 601.58 L85.62 605.56 L81.65 607.54 L77.66 609.53 L71.7 612.51 L65.73 615.5 L61.77 617.48 L57.8 623.45 L53.81 627.43 L49.84 631.4 L45.87 637.37 L41.88 642.34 L37.91 645.32 L31.95 649.3 L27.96 653.28 L25.98 657.25 L24.39 663.21 Z" fill="#e15f4b" fill-opacity="0.3" stroke="none"/><path d="M24.39 661.23 L25.98 657.25 L31.95 653.28 L41.88 649.3 L51.83 646.31 L61.77 643.34 L71.7 641.34 L81.65 639.35 L91.59 637.37 L101.54 634.38 L111.47 630.41 L121.42 627.43 L125.39 626.44 L134.53 622.51 L141.08 620.87 L144.35 619.24 L154.17 619.24 L160.69 617.6 L168.89 615.15 L172.14 612.7 L183.58 611.89 L186.85 609.43 L193.4 607.8 L199.94 603.71 L206.49 602.07 L216.29 601.25 L222.83 600.44 L226.1 597.17 L236.74 596.35 L237.22 593.9 L240.82 593.08 L240.82 616.79 L226.1 617.6 L219.56 619.24 L209.74 620.06 L199.94 620.87 L193.4 623.33 L185.23 624.97 L177.06 625.78 L170.51 629.05 L160.69 630.69 L150.9 631.99 L141.08 633.14 L134.53 634.77 L125.39 637.37 L121.42 638.37 L111.47 640.35 L101.54 643.34 L91.59 645.72 L81.65 647.31 L71.7 649.3 L61.77 651.28 L51.83 653.68 L41.88 656.25 L33.92 659.24 L27.96 661.23 L24.39 663.21 Z" fill="#2a7c7c" fill-opacity="0.3" stroke="none"/><path d="M24.2 600.5 H237.2" stroke="#f59a94" stroke-width="1.0" stroke-dasharray="2.6 1.25" fill="none"/><path d="M24.39 659.24 L24.97 651.28 L25.98 647.31 L27.96 643.34 L31.95 639.35 L35.91 637.37 L39.9 633.39 L43.87 627.43 L47.84 622.46 L51.83 618.48 L55.8 614.5 L59.77 610.53 L63.76 607.54 L69.72 604.56 L73.69 601.58 L77.66 599.59 L81.65 598.6 L85.62 595.61 L89.61 593.63 L93.58 589.65 L97.55 587.66 L101.54 585.67 L105.51 582.69 L109.48 578.71 L113.47 575.73 L117.44 573.74 L121.42 572.74 L125.39 568.77 L131.07 564.38 L136.18 562.34 L140.28 560.29 L144.37 557.22 L148.48 555.79 L152.56 554.15 L156.65 553.13 L160.75 552.51 L166.89 551.69 L168.94 550.06 L170.98 545.96 L175.08 542.89 L179.17 541.87 L183.27 540.23 L186.33 536.76 L193.5 535.73 L197.58 531.64 L201.69 528.56 L204.75 525.09 L207.83 521.4 L209.88 518.33 L211.91 515.26 L213.96 512.8 L218.05 511.17 L222.15 508.71 L224.21 504 L226.24 500.93 L228.29 496.84 L229.32 493.77 L230.35 490.29 L236.08 489.68 L236.48 480.47 L240.57 479.44" stroke="#e05a44" stroke-width="1.15" fill="none" stroke-linejoin="miter"/><path d="M24.39 662.22 L25.98 659.24 L29.95 657.25 L33.92 655.27 L37.91 653.68 L41.88 652.28 L47.84 650.29 L53.81 648.31 L61.77 646.91 L69.72 645.32 L77.66 643.73 L85.62 642.34 L93.58 640.94 L101.54 638.96 L109.48 635.38 L117.44 633.39 L125.39 631.4 L132.91 629.05 L137.81 628.24 L141.08 627.42 L144.35 625.78 L150.9 625.46 L157.42 624.97 L160.69 623.33 L167.24 622.51 L170.51 620.06 L177.06 620.06 L183.58 619.24 L186.85 617.6 L193.4 616.3 L196.67 614.34 L201.57 612.7 L203.22 611.89 L222.83 611.89 L224.46 610.25 L227.73 609.76 L229.38 608.62 L236.74 608.13 L237.22 606.16 L240.82 605.83" stroke="#2a7c7c" stroke-width="1.15" fill="none" stroke-linejoin="miter"/></g><path d="M24.2 663.5 V460.6 H237.2 V663.5" fill="none" stroke="#5a5a5a" stroke-width="0.9"/><path d="M23.75 663.6 H237.65" fill="none" stroke="#c6c6c6" stroke-width="1.5"/><path d="M21.8 663.5 H24.2 M21.8 646.59 H24.2 M21.8 629.68 H24.2 M21.8 612.77 H24.2 M21.8 595.87 H24.2 M21.8 578.96 H24.2 M21.8 562.05 H24.2 M21.8 545.14 H24.2 M21.8 528.23 H24.2 M21.8 511.32 H24.2 M21.8 494.42 H24.2 M21.8 477.51 H24.2 M24.2 663.5 V665.9 M62.93 663.5 V665.9 M101.65 663.5 V665.9 M140.38 663.5 V665.9 M179.11 663.5 V665.9 M217.84 663.5 V665.9" stroke="#555" stroke-width="0.8" fill="none"/><text x="20.6" y="666.25" font-size="7.9" text-anchor="end" textLength="4.61" lengthAdjust="spacingAndGlyphs" fill="#262626" stroke="#262626" stroke-width="0.18">0</text><text x="20.6" y="649.34" font-size="7.9" text-anchor="end" textLength="4.61" lengthAdjust="spacingAndGlyphs" fill="#262626" stroke="#262626" stroke-width="0.18">2</text><text x="20.6" y="632.43" font-size="7.9" text-anchor="end" textLength="4.61" lengthAdjust="spacingAndGlyphs" fill="#262626" stroke="#262626" stroke-width="0.18">4</text><text x="20.6" y="615.52" font-size="7.9" text-anchor="end" textLength="4.61" lengthAdjust="spacingAndGlyphs" fill="#262626" stroke="#262626" stroke-width="0.18">6</text><text x="20.6" y="598.62" font-size="7.9" text-anchor="end" textLength="4.61" lengthAdjust="spacingAndGlyphs" fill="#262626" stroke="#262626" stroke-width="0.18">8</text><text x="20.6" y="581.71" font-size="7.9" text-anchor="end" textLength="9.23" lengthAdjust="spacingAndGlyphs" fill="#262626" stroke="#262626" stroke-width="0.18">10</text><text x="20.6" y="564.8" font-size="7.9" text-anchor="end" textLength="9.23" lengthAdjust="spacingAndGlyphs" fill="#262626" stroke="#262626" stroke-width="0.18">12</text><text x="20.6" y="547.89" font-size="7.9" text-anchor="end" textLength="9.23" lengthAdjust="spacingAndGlyphs" fill="#262626" stroke="#262626" stroke-width="0.18">14</text><text x="20.6" y="530.98" font-size="7.9" text-anchor="end" textLength="9.23" lengthAdjust="spacingAndGlyphs" fill="#262626" stroke="#262626" stroke-width="0.18">16</text><text x="20.6" y="514.08" font-size="7.9" text-anchor="end" textLength="9.23" lengthAdjust="spacingAndGlyphs" fill="#262626" stroke="#262626" stroke-width="0.18">18</text><text x="20.6" y="497.17" font-size="7.9" text-anchor="end" textLength="9.23" lengthAdjust="spacingAndGlyphs" fill="#262626" stroke="#262626" stroke-width="0.18">20</text><text x="20.6" y="480.26" font-size="7.9" text-anchor="end" textLength="9.23" lengthAdjust="spacingAndGlyphs" fill="#262626" stroke="#262626" stroke-width="0.18">22</text><text x="24.2" y="673.5" font-size="7.9" text-anchor="middle" textLength="4.61" lengthAdjust="spacingAndGlyphs" fill="#262626" stroke="#262626" stroke-width="0.18">0</text><text x="62.93" y="673.5" font-size="7.9" text-anchor="middle" textLength="4.61" lengthAdjust="spacingAndGlyphs" fill="#262626" stroke="#262626" stroke-width="0.18">2</text><text x="101.65" y="673.5" font-size="7.9" text-anchor="middle" textLength="4.61" lengthAdjust="spacingAndGlyphs" fill="#262626" stroke="#262626" stroke-width="0.18">4</text><text x="140.38" y="673.5" font-size="7.9" text-anchor="middle" textLength="4.61" lengthAdjust="spacingAndGlyphs" fill="#262626" stroke="#262626" stroke-width="0.18">6</text><text x="179.11" y="673.5" font-size="7.9" text-anchor="middle" textLength="4.61" lengthAdjust="spacingAndGlyphs" fill="#262626" stroke="#262626" stroke-width="0.18">8</text><text x="217.84" y="673.5" font-size="7.9" text-anchor="middle" textLength="9.23" lengthAdjust="spacingAndGlyphs" fill="#262626" stroke="#262626" stroke-width="0.18">10</text><text x="130.7" y="680.8" font-size="7.9" text-anchor="middle" textLength="19.95" lengthAdjust="spacingAndGlyphs" fill="#262626" stroke="#262626" stroke-width="0.18">years</text><text transform="translate(7.2 562.05) rotate(-90)" x="0" y="0" font-size="8.5" text-anchor="middle" textLength="133.05" lengthAdjust="spacingAndGlyphs" fill="#262626" stroke="#262626" stroke-width="0.18">Incidence of ASCVD events(%)</text><text x="130.7" y="458" font-size="9.2" text-anchor="middle" textLength="117.3" lengthAdjust="spacingAndGlyphs" fill="#262626" stroke="#262626" stroke-width="0.18">(G) Male patients, N=9130</text><rect x="27.1" y="463.6" width="99" height="23.5" rx="1.8" fill="#fff" fill-opacity="0.8" stroke="#e2e2e2" stroke-width="0.8"/><path d="M29.9 469.6 H45.2" stroke="#e05a44" stroke-width="1.15" opacity="0.72"/><path d="M29.9 480.5 H45.2" stroke="#2a7c7c" stroke-width="1.15" opacity="0.85"/><text x="51.1" y="472.5" font-size="7.5" textLength="57.61" lengthAdjust="spacingAndGlyphs" fill="#262626" stroke="#262626" stroke-width="0.18">Top SEER Tertile</text><text x="51.1" y="482.8" font-size="7.5" textLength="71.97" lengthAdjust="spacingAndGlyphs" fill="#262626" stroke="#262626" stroke-width="0.18">Bottom SEER Tertile</text></g>
<g font-family='&quot;Liberation Sans&quot;, sans-serif' style="will-change:transform"><path d="M286.03 460.6 V663.5 M324.75 460.6 V663.5 M363.48 460.6 V663.5 M402.21 460.6 V663.5 M440.94 460.6 V663.5 M247.3 663.5 H460.3 M247.3 646.59 H460.3 M247.3 629.68 H460.3 M247.3 612.77 H460.3 M247.3 595.87 H460.3 M247.3 578.96 H460.3 M247.3 562.05 H460.3 M247.3 545.14 H460.3 M247.3 528.23 H460.3 M247.3 511.32 H460.3 M247.3 494.42 H460.3 M247.3 477.51 H460.3" stroke="#dcdcdc" stroke-width="1.1" fill="none"/><g clip-path="url(#c7)"><path d="M247.38 655.27 L248.98 645.32 L252.95 637.37 L256.92 631.4 L260.91 627.43 L264.88 623.45 L268.85 620.47 L274.82 617.48 L280.8 613.51 L284.77 609.53 L290.73 606.55 L296.7 603.57 L302.66 600.58 L308.62 596.61 L312.59 593.63 L316.58 589.65 L320.55 586.67 L324.54 582.69 L328.51 579.71 L332.48 576.73 L336.47 572.74 L340.44 568.77 L344.41 565.79 L348.4 561.81 L350.37 559.83 L354.09 554.94 L358.2 552.89 L364.33 548.8 L374.56 546.76 L382.75 540.61 L388.89 536.52 L399.13 534.47 L403.22 531.4 L409.35 524.24 L415.49 518.1 L423.68 516.67 L431.87 514.62 L438.01 514 L439.04 503.78 L445.18 494.56 L450.29 489.45 L453.37 481.25 L464.62 481.25 L464.62 529.36 L454.39 529.36 L450.29 535.5 L446.2 537.54 L444.15 541.64 L439.04 543.69 L438.01 549.83 L423.68 550.85 L416.52 553.92 L411.41 556.99 L409.35 560.05 L401.16 562.11 L390.94 565.18 L380.7 570.29 L376.61 572.34 L366.37 574.38 L358.2 577.45 L354.09 579.5 L350.37 580.7 L348.4 581.7 L344.41 584.68 L340.44 587.66 L336.47 590.64 L332.48 593.63 L328.51 597.6 L324.54 601.58 L320.55 604.56 L314.59 608.54 L310.62 611.52 L304.66 615.5 L298.69 617.48 L292.73 620.47 L286.76 622.46 L282.77 625.44 L276.81 629.41 L270.85 632.4 L264.88 636.37 L260.91 640.35 L256.92 645.32 L252.95 651.28 L249.97 657.25 L247.38 663.21 Z" fill="#e15f4b" fill-opacity="0.3" stroke="none"/><path d="M247.38 662.22 L252.95 659.64 L260.91 656.86 L264.88 655.27 L270.85 654.27 L276.81 653.28 L284.77 652.87 L292.73 651.28 L300.67 649.3 L308.62 648.31 L316.58 647.31 L324.54 646.31 L332.48 645.32 L340.44 644.33 L348.4 642.34 L351.38 641.74 L354.9 641.32 L359.8 640.5 L369.62 638.04 L379.44 637.22 L390.88 635.59 L402.33 633.95 L413.77 633.14 L415.4 629.87 L421.94 625.78 L426.84 623.82 L438.28 622.84 L439.93 620.06 L454.65 618.42 L455.46 614.34 L458.73 608.62 L462.82 607.8 L462.82 632.32 L456.27 634.77 L454.65 636.9 L439.93 637.22 L438.28 639.19 L423.57 639.68 L415.4 642.13 L413.77 643.77 L403.95 645.4 L392.51 645.73 L382.71 647.04 L369.62 647.85 L359.8 649.49 L354.9 650.3 L351.38 648.5 L344.41 649.3 L334.48 650.89 L324.54 652.28 L314.59 653.28 L304.66 654.87 L296.7 656.25 L284.77 657.65 L270.85 659.24 L260.91 661.23 L252.95 662.82 L247.38 663.61 Z" fill="#2a7c7c" fill-opacity="0.3" stroke="none"/><path d="M247.3 600.5 H460.3" stroke="#f59a94" stroke-width="1.0" stroke-dasharray="2.6 1.25" fill="none"/><path d="M247.38 659.24 L248.98 651.28 L250.96 645.32 L252.95 641.34 L255.94 637.37 L258.92 633.39 L262.89 630.41 L266.88 627.43 L270.85 624.44 L274.82 621.47 L278.8 618.48 L282.77 615.5 L286.76 613.51 L290.73 611.52 L294.7 609.53 L298.69 607.54 L302.66 606.55 L306.63 604.56 L310.62 601.58 L314.59 598.6 L318.56 595.61 L322.55 592.63 L326.52 588.66 L330.51 585.67 L334.48 582.69 L338.44 579.71 L342.43 576.73 L346.4 572.74 L350.37 569.77 L354.09 567.83 L358.2 566.2 L360.23 564.56 L364.33 562.51 L368.42 561.08 L376.61 560.05 L380.7 556.99 L384.8 554.94 L388.89 551.87 L397.08 550.85 L401.16 548.8 L405.27 547.78 L408.33 545.73 L410.38 541.64 L415.49 538.56 L416.52 535.5 L423.68 535.09 L424.71 533.45 L438.01 533.04 L439.04 526.29 L441.09 523.22 L444.15 522.2 L445.18 518.1 L447.23 516.67 L449.26 514 L451.32 512.98 L453.37 506.84 L464.62 506.43" stroke="#e05a44" stroke-width="1.15" fill="none" stroke-linejoin="miter"/><path d="M247.38 662.82 L250.96 661.23 L254.95 660.24 L260.91 658.84 L264.88 657.25 L270.85 656.25 L276.81 655.66 L282.77 654.87 L288.74 654.27 L294.7 653.28 L300.67 652.28 L304.66 651.28 L310.62 650.29 L316.58 650.29 L320.55 649.3 L324.54 648.9 L330.51 648.31 L336.47 647.71 L342.43 646.91 L348.4 646.31 L351.38 645.92 L354.9 645.4 L364.72 645.08 L367.99 643.77 L371.25 642.95 L379.44 642.46 L390.88 641.81 L399.05 640.83 L403.95 640.17 L412.12 639.68 L413.77 638.04 L418.67 635.59 L421.94 633.95 L425.21 632.32 L438.28 631.99 L441.56 629.05 L454.65 629.05 L456.27 625.78 L458.73 622.51 L462.82 621.69" stroke="#2a7c7c" stroke-width="1.15" fill="none" stroke-linejoin="miter"/></g><path d="M247.3 663.5 V460.6 H460.3 V663.5" fill="none" stroke="#5a5a5a" stroke-width="0.9"/><path d="M246.85 663.6 H460.75" fill="none" stroke="#c6c6c6" stroke-width="1.5"/><path d="M244.9 663.5 H247.3 M244.9 646.59 H247.3 M244.9 629.68 H247.3 M244.9 612.77 H247.3 M244.9 595.87 H247.3 M244.9 578.96 H247.3 M244.9 562.05 H247.3 M244.9 545.14 H247.3 M244.9 528.23 H247.3 M244.9 511.32 H247.3 M244.9 494.42 H247.3 M244.9 477.51 H247.3 M247.3 663.5 V665.9 M286.03 663.5 V665.9 M324.75 663.5 V665.9 M363.48 663.5 V665.9 M402.21 663.5 V665.9 M440.94 663.5 V665.9" stroke="#555" stroke-width="0.8" fill="none"/><text x="247.3" y="673.5" font-size="7.9" text-anchor="middle" textLength="4.61" lengthAdjust="spacingAndGlyphs" fill="#262626" stroke="#262626" stroke-width="0.18">0</text><text x="286.03" y="673.5" font-size="7.9" text-anchor="middle" textLength="4.61" lengthAdjust="spacingAndGlyphs" fill="#262626" stroke="#262626" stroke-width="0.18">2</text><text x="324.75" y="673.5" font-size="7.9" text-anchor="middle" textLength="4.61" lengthAdjust="spacingAndGlyphs" fill="#262626" stroke="#262626" stroke-width="0.18">4</text><text x="363.48" y="673.5" font-size="7.9" text-anchor="middle" textLength="4.61" lengthAdjust="spacingAndGlyphs" fill="#262626" stroke="#262626" stroke-width="0.18">6</text><text x="402.21" y="673.5" font-size="7.9" text-anchor="middle" textLength="4.61" lengthAdjust="spacingAndGlyphs" fill="#262626" stroke="#262626" stroke-width="0.18">8</text><text x="440.94" y="673.5" font-size="7.9" text-anchor="middle" textLength="9.23" lengthAdjust="spacingAndGlyphs" fill="#262626" stroke="#262626" stroke-width="0.18">10</text><text x="353.8" y="680.8" font-size="7.9" text-anchor="middle" textLength="19.95" lengthAdjust="spacingAndGlyphs" fill="#262626" stroke="#262626" stroke-width="0.18">years</text><text x="353.8" y="458" font-size="9.2" text-anchor="middle" textLength="128.01" lengthAdjust="spacingAndGlyphs" fill="#262626" stroke="#262626" stroke-width="0.18">(H) Female patients, N=9239</text><rect x="250.2" y="463.6" width="99" height="23.5" rx="1.8" fill="#fff" fill-opacity="0.8" stroke="#e2e2e2" stroke-width="0.8"/><path d="M253 469.6 H268.3" stroke="#e05a44" stroke-width="1.15" opacity="0.72"/><path d="M253 480.5 H268.3" stroke="#2a7c7c" stroke-width="1.15" opacity="0.85"/><text x="274.2" y="472.5" font-size="7.5" textLength="57.61" lengthAdjust="spacingAndGlyphs" fill="#262626" stroke="#262626" stroke-width="0.18">Top SEER Tertile</text><text x="274.2" y="482.8" font-size="7.5" textLength="71.97" lengthAdjust="spacingAndGlyphs" fill="#262626" stroke="#262626" stroke-width="0.18">Bottom SEER Tertile</text></g>
<g font-family='&quot;Liberation Sans&quot;, sans-serif' style="will-change:transform"><path d="M509.13 460.6 V663.5 M547.85 460.6 V663.5 M586.58 460.6 V663.5 M625.31 460.6 V663.5 M664.04 460.6 V663.5 M470.4 663.5 H683.4 M470.4 646.59 H683.4 M470.4 629.68 H683.4 M470.4 612.77 H683.4 M470.4 595.87 H683.4 M470.4 578.96 H683.4 M470.4 562.05 H683.4 M470.4 545.14 H683.4 M470.4 528.23 H683.4 M470.4 511.32 H683.4 M470.4 494.42 H683.4 M470.4 477.51 H683.4" stroke="#dcdcdc" stroke-width="1.1" fill="none"/><g clip-path="url(#c8)"><path d="M470.38 655.27 L471.97 646.31 L475.96 640.35 L479.93 635.38 L483.92 631.4 L487.89 627.43 L491.85 623.45 L495.84 619.47 L499.81 616.49 L503.78 613.51 L507.77 609.53 L511.74 607.54 L517.71 604.56 L523.67 602.57 L527.66 600.58 L531.63 597.6 L535.6 594.62 L539.59 590.64 L543.56 587.66 L547.53 584.68 L551.51 581.7 L555.48 578.71 L559.45 574.74 L563.44 571.76 L567.41 568.77 L571.4 564.8 L575.37 560.82 L579.15 557.22 L585.28 553.13 L593.48 550.06 L601.65 545.96 L609.84 542.89 L618.03 538.8 L626.22 534.71 L632.36 530.62 L638.5 526.52 L646.69 522.43 L654.88 517.31 L661.02 511.17 L665.1 504 L671.24 499.91 L674.32 492.75 L677.38 480.47 L682.51 479.44 L683.54 474.33 L687.62 473.31 L687.62 517.31 L677.38 518.33 L675.34 525.49 L671.24 530.62 L667.15 533.69 L663.05 537.78 L658.96 542.89 L650.77 545.96 L642.58 549.04 L634.41 552.11 L630.3 555.18 L622.11 558.65 L613.94 562.34 L605.75 564.8 L597.56 567.45 L589.37 570.53 L581.18 574.62 L575.37 576.73 L571.4 578.71 L567.41 581.7 L563.44 584.68 L559.45 587.66 L555.48 590.64 L551.51 593.63 L547.53 597.6 L543.56 600.58 L539.59 604.56 L535.6 607.54 L529.63 610.53 L523.67 612.51 L517.71 615.5 L511.74 618.48 L505.78 622.46 L499.81 627.43 L493.85 631.4 L487.89 637.37 L481.92 643.34 L477.93 648.31 L473.96 653.28 L471.97 657.25 L470.38 663.21 Z" fill="#e15f4b" fill-opacity="0.3" stroke="none"/><path d="M470.38 662.02 L475.96 657.25 L483.92 654.87 L491.85 653.28 L499.81 651.28 L507.77 649.69 L517.71 648.31 L527.66 646.31 L537.59 644.33 L547.53 642.94 L557.48 640.35 L567.41 637.77 L574.38 635.78 L579.53 632.65 L587.72 631.99 L592.62 630.36 L602.42 629.05 L612.24 627.74 L618.78 626.11 L628.6 624.48 L635.13 622.84 L640.04 620.87 L644.94 617.6 L649.84 615.64 L661.29 615.15 L664.56 613.52 L674.38 611.89 L680.92 609.43 L683.86 605.34 L685.82 604.52 L685.82 621.69 L680.92 622.84 L674.38 624.15 L664.56 625.46 L661.29 626.6 L649.84 626.6 L644.94 628.24 L640.04 630.69 L635.13 631.99 L628.6 633.14 L618.78 633.95 L613.88 635.59 L605.69 636.41 L592.62 638.04 L587.72 639.68 L579.53 640.83 L574.38 640.94 L567.41 642.34 L557.48 644.93 L547.53 646.91 L537.59 648.31 L527.66 650.29 L517.71 651.68 L507.77 653.68 L499.81 655.66 L491.85 657.25 L483.92 659.24 L475.96 661.23 L470.38 663.61 Z" fill="#2a7c7c" fill-opacity="0.3" stroke="none"/><path d="M470.4 600.5 H683.4" stroke="#f59a94" stroke-width="1.0" stroke-dasharray="2.6 1.25" fill="none"/><path d="M470.38 659.24 L470.98 653.28 L471.97 649.3 L473.96 645.32 L476.94 641.34 L479.93 638.37 L483.92 634.38 L487.89 630.41 L491.85 626.44 L495.84 623.45 L499.81 620.47 L503.78 617.48 L507.77 613.51 L511.74 611.52 L515.71 609.53 L519.7 607.54 L523.67 605.56 L527.66 603.97 L531.63 601.58 L535.6 598.6 L539.59 594.62 L543.56 592.63 L547.53 589.65 L551.51 586.67 L555.48 583.68 L559.45 580.7 L563.44 577.72 L567.41 575.73 L571.4 571.76 L575.37 568.77 L577.09 568.48 L583.23 564.38 L587.34 562.34 L593.48 559.89 L597.56 559.27 L601.65 556.2 L607.8 554.15 L613.94 551.69 L620.08 548.01 L626.22 544.94 L632.36 542.89 L634.41 539.82 L638.5 538.18 L642.58 535.32 L646.69 533.69 L650.77 532.05 L654.88 530 L658.96 527.54 L663.05 521.4 L667.15 518.33 L671.24 514.24 L675.34 508.1 L677.38 502.98 L678.4 499.91 L682.51 499.91 L683.11 495.82 L687.62 495.2" stroke="#e05a44" stroke-width="1.15" fill="none" stroke-linejoin="miter"/><path d="M470.38 662.82 L471.97 661.23 L475.96 659.64 L479.93 658.24 L483.92 656.86 L487.89 655.66 L493.85 654.27 L499.81 652.87 L505.78 651.68 L511.74 650.89 L517.71 649.9 L521.67 649.3 L525.66 648.31 L531.63 647.31 L537.59 646.31 L543.56 645.32 L547.53 644.93 L551.51 643.73 L555.48 642.94 L559.45 641.74 L563.44 640.94 L567.41 639.75 L571.4 638.96 L574.38 638.37 L579.53 636.9 L587.72 635.91 L592.62 633.95 L599.17 633.63 L605.69 632.32 L613.88 631.99 L617.14 630.36 L622.06 629.87 L628.6 629.05 L635.13 627.74 L640.04 626.6 L644.94 624.15 L649.84 621.69 L661.29 621.69 L664.56 620.06 L671.1 619.24 L677.65 617.93 L681.73 616.3 L683.86 613.52 L685.82 612.7" stroke="#2a7c7c" stroke-width="1.15" fill="none" stroke-linejoin="miter"/></g><path d="M470.4 663.5 V460.6 H683.4 V663.5" fill="none" stroke="#5a5a5a" stroke-width="0.9"/><path d="M469.95 663.6 H683.85" fill="none" stroke="#c6c6c6" stroke-width="1.5"/><path d="M468 663.5 H470.4 M468 646.59 H470.4 M468 629.68 H470.4 M468 612.77 H470.4 M468 595.87 H470.4 M468 578.96 H470.4 M468 562.05 H470.4 M468 545.14 H470.4 M468 528.23 H470.4 M468 511.32 H470.4 M468 494.42 H470.4 M468 477.51 H470.4 M470.4 663.5 V665.9 M509.13 663.5 V665.9 M547.85 663.5 V665.9 M586.58 663.5 V665.9 M625.31 663.5 V665.9 M664.04 663.5 V665.9" stroke="#555" stroke-width="0.8" fill="none"/><text x="470.4" y="673.5" font-size="7.9" text-anchor="middle" textLength="4.61" lengthAdjust="spacingAndGlyphs" fill="#262626" stroke="#262626" stroke-width="0.18">0</text><text x="509.13" y="673.5" font-size="7.9" text-anchor="middle" textLength="4.61" lengthAdjust="spacingAndGlyphs" fill="#262626" stroke="#262626" stroke-width="0.18">2</text><text x="547.85" y="673.5" font-size="7.9" text-anchor="middle" textLength="4.61" lengthAdjust="spacingAndGlyphs" fill="#262626" stroke="#262626" stroke-width="0.18">4</text><text x="586.58" y="673.5" font-size="7.9" text-anchor="middle" textLength="4.61" lengthAdjust="spacingAndGlyphs" fill="#262626" stroke="#262626" stroke-width="0.18">6</text><text x="625.31" y="673.5" font-size="7.9" text-anchor="middle" textLength="4.61" lengthAdjust="spacingAndGlyphs" fill="#262626" stroke="#262626" stroke-width="0.18">8</text><text x="664.04" y="673.5" font-size="7.9" text-anchor="middle" textLength="9.23" lengthAdjust="spacingAndGlyphs" fill="#262626" stroke="#262626" stroke-width="0.18">10</text><text x="576.9" y="680.8" font-size="7.9" text-anchor="middle" textLength="19.95" lengthAdjust="spacingAndGlyphs" fill="#262626" stroke="#262626" stroke-width="0.18">years</text><text x="576.9" y="458" font-size="9.2" text-anchor="middle" textLength="145.21" lengthAdjust="spacingAndGlyphs" fill="#262626" stroke="#262626" stroke-width="0.18">(I) Non-paced patients, N=18016</text><rect x="473.3" y="463.6" width="99" height="23.5" rx="1.8" fill="#fff" fill-opacity="0.8" stroke="#e2e2e2" stroke-width="0.8"/><path d="M476.1 469.6 H491.4" stroke="#e05a44" stroke-width="1.15" opacity="0.72"/><path d="M476.1 480.5 H491.4" stroke="#2a7c7c" stroke-width="1.15" opacity="0.85"/><text x="497.3" y="472.5" font-size="7.5" textLength="57.61" lengthAdjust="spacingAndGlyphs" fill="#262626" stroke="#262626" stroke-width="0.18">Top SEER Tertile</text><text x="497.3" y="482.8" font-size="7.5" textLength="71.97" lengthAdjust="spacingAndGlyphs" fill="#262626" stroke="#262626" stroke-width="0.18">Bottom SEER Tertile</text></g>
</svg></body></html>
